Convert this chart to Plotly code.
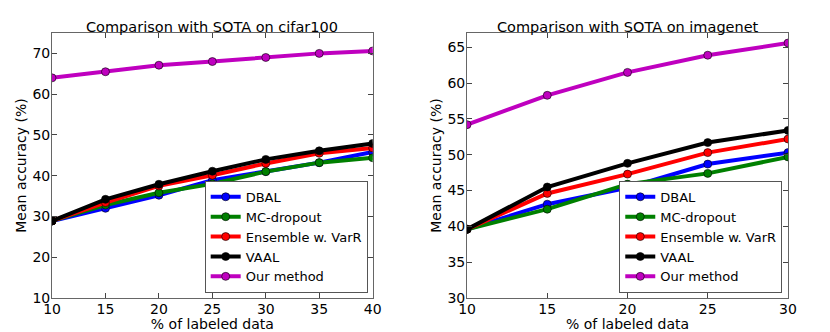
import plotly.graph_objects as go

methods = ["DBAL", "MC-dropout", "Ensemble w. VarR", "VAAL", "Our method"]
colors = ["#0000ff", "#008000", "#ff0000", "#000000", "#bf00bf"]

# cifar100
x_cifar = [10, 15, 20, 25, 30, 35, 40]
cifar_dbal = [28.9, 32.0, 35.2, 38.9, 41.0, 43.2, 45.8]
cifar_mc = [28.9, 32.8, 35.8, 38.0, 41.0, 43.2, 44.4]
cifar_ens = [28.9, 33.4, 37.5, 40.1, 43.0, 45.5, 46.8]
cifar_vaal = [28.9, 34.2, 37.9, 41.1, 44.0, 46.1, 47.9]
cifar_ours = [64.0, 65.5, 67.1, 68.0, 69.0, 70.0, 70.6]

# imagenet
x_imnet = [10, 15, 20, 25, 30]
imnet_dbal = [39.6, 43.1, 45.4, 48.7, 50.3]
imnet_mc = [39.6, 42.4, 45.9, 47.4, 49.7]
imnet_ens = [39.6, 44.6, 47.3, 50.3, 52.2]
imnet_vaal = [39.6, 45.5, 48.8, 51.7, 53.4]
imnet_ours = [54.2, 58.3, 61.5, 63.9, 65.6]

titles = ["Comparison with SOTA on cifar100", "Comparison with SOTA on imagenet"]

FONT = "DejaVu Sans"
fig = go.Figure()

panels = [
    (x_cifar, [cifar_dbal, cifar_mc, cifar_ens, cifar_vaal, cifar_ours], "x", "y", "legend"),
    (x_imnet, [imnet_dbal, imnet_mc, imnet_ens, imnet_vaal, imnet_ours], "x2", "y2", "legend2"),
]
for xs, series, xa, ya, lg in panels:
    for name, col, ys in zip(methods, colors, series):
        fig.add_trace(go.Scatter(
            x=xs, y=ys, name=name, mode="lines+markers",
            line=dict(color=col, width=4),
            marker=dict(color=col, size=8, line=dict(color="#000", width=0.6)),
            xaxis=xa, yaxis=ya, legend=lg))

axis_common = dict(showgrid=False, zeroline=False, showline=True, linecolor="#666",
                   linewidth=1, mirror="ticks", ticks="inside", ticklen=5,
                   tickcolor="#444", automargin=False,
                   tickfont=dict(family=FONT, size=14, color="#000"),
                   title_font=dict(family=FONT, size=14, color="#000"))

xdom1, xdom2 = [0.0627, 0.449], [0.5627, 0.9494]
ydom = [0.1024, 0.9006]

legend_common = dict(y=0.118, xanchor="right", yanchor="bottom",
                     bordercolor="#555", borderwidth=1, bgcolor="white",
                     font=dict(family=FONT, size=13), tracegroupgap=0, itemwidth=30)

fig.update_layout(
    width=830, height=332, margin=dict(l=0, r=0, t=0, b=0),
    plot_bgcolor="white", paper_bgcolor="white",
    font=dict(family=FONT, color="#000"),
    xaxis=dict(axis_common, domain=xdom1, range=[10, 40], dtick=5, ticklabelstandoff=-2,
               title=dict(text="% of labeled data", standoff=2)),
    yaxis=dict(axis_common, domain=ydom, range=[10, 75], dtick=10, ticklabelstandoff=-2,
               title=dict(text="Mean accuracy (%)", standoff=2)),
    xaxis2=dict(axis_common, domain=xdom2, range=[10, 30], dtick=5, ticklabelstandoff=-2,
                anchor="y2", title=dict(text="% of labeled data", standoff=2)),
    yaxis2=dict(axis_common, domain=ydom, range=[30, 67], dtick=5, ticklabelstandoff=-2,
                anchor="x2", title=dict(text="Mean accuracy (%)", standoff=2)),
    legend=dict(legend_common, x=0.443),
    legend2=dict(legend_common, x=0.9425),
    showlegend=True,
)

for xd, t in zip([xdom1, xdom2], titles):
    fig.add_annotation(text=t, x=(xd[0] + xd[1]) / 2, y=ydom[1], xref="paper", yref="paper",
                       xanchor="center", yanchor="bottom", yshift=-4, showarrow=False,
                       font=dict(family=FONT, size=14.5, color="#000"))

# drop the browser's default 8px body margin so the figure sits at the page origin
fig.write_html("out.html", config={"displayModeBar": False},
               post_script="document.body.style.margin='0';document.body.style.overflow='hidden';")
